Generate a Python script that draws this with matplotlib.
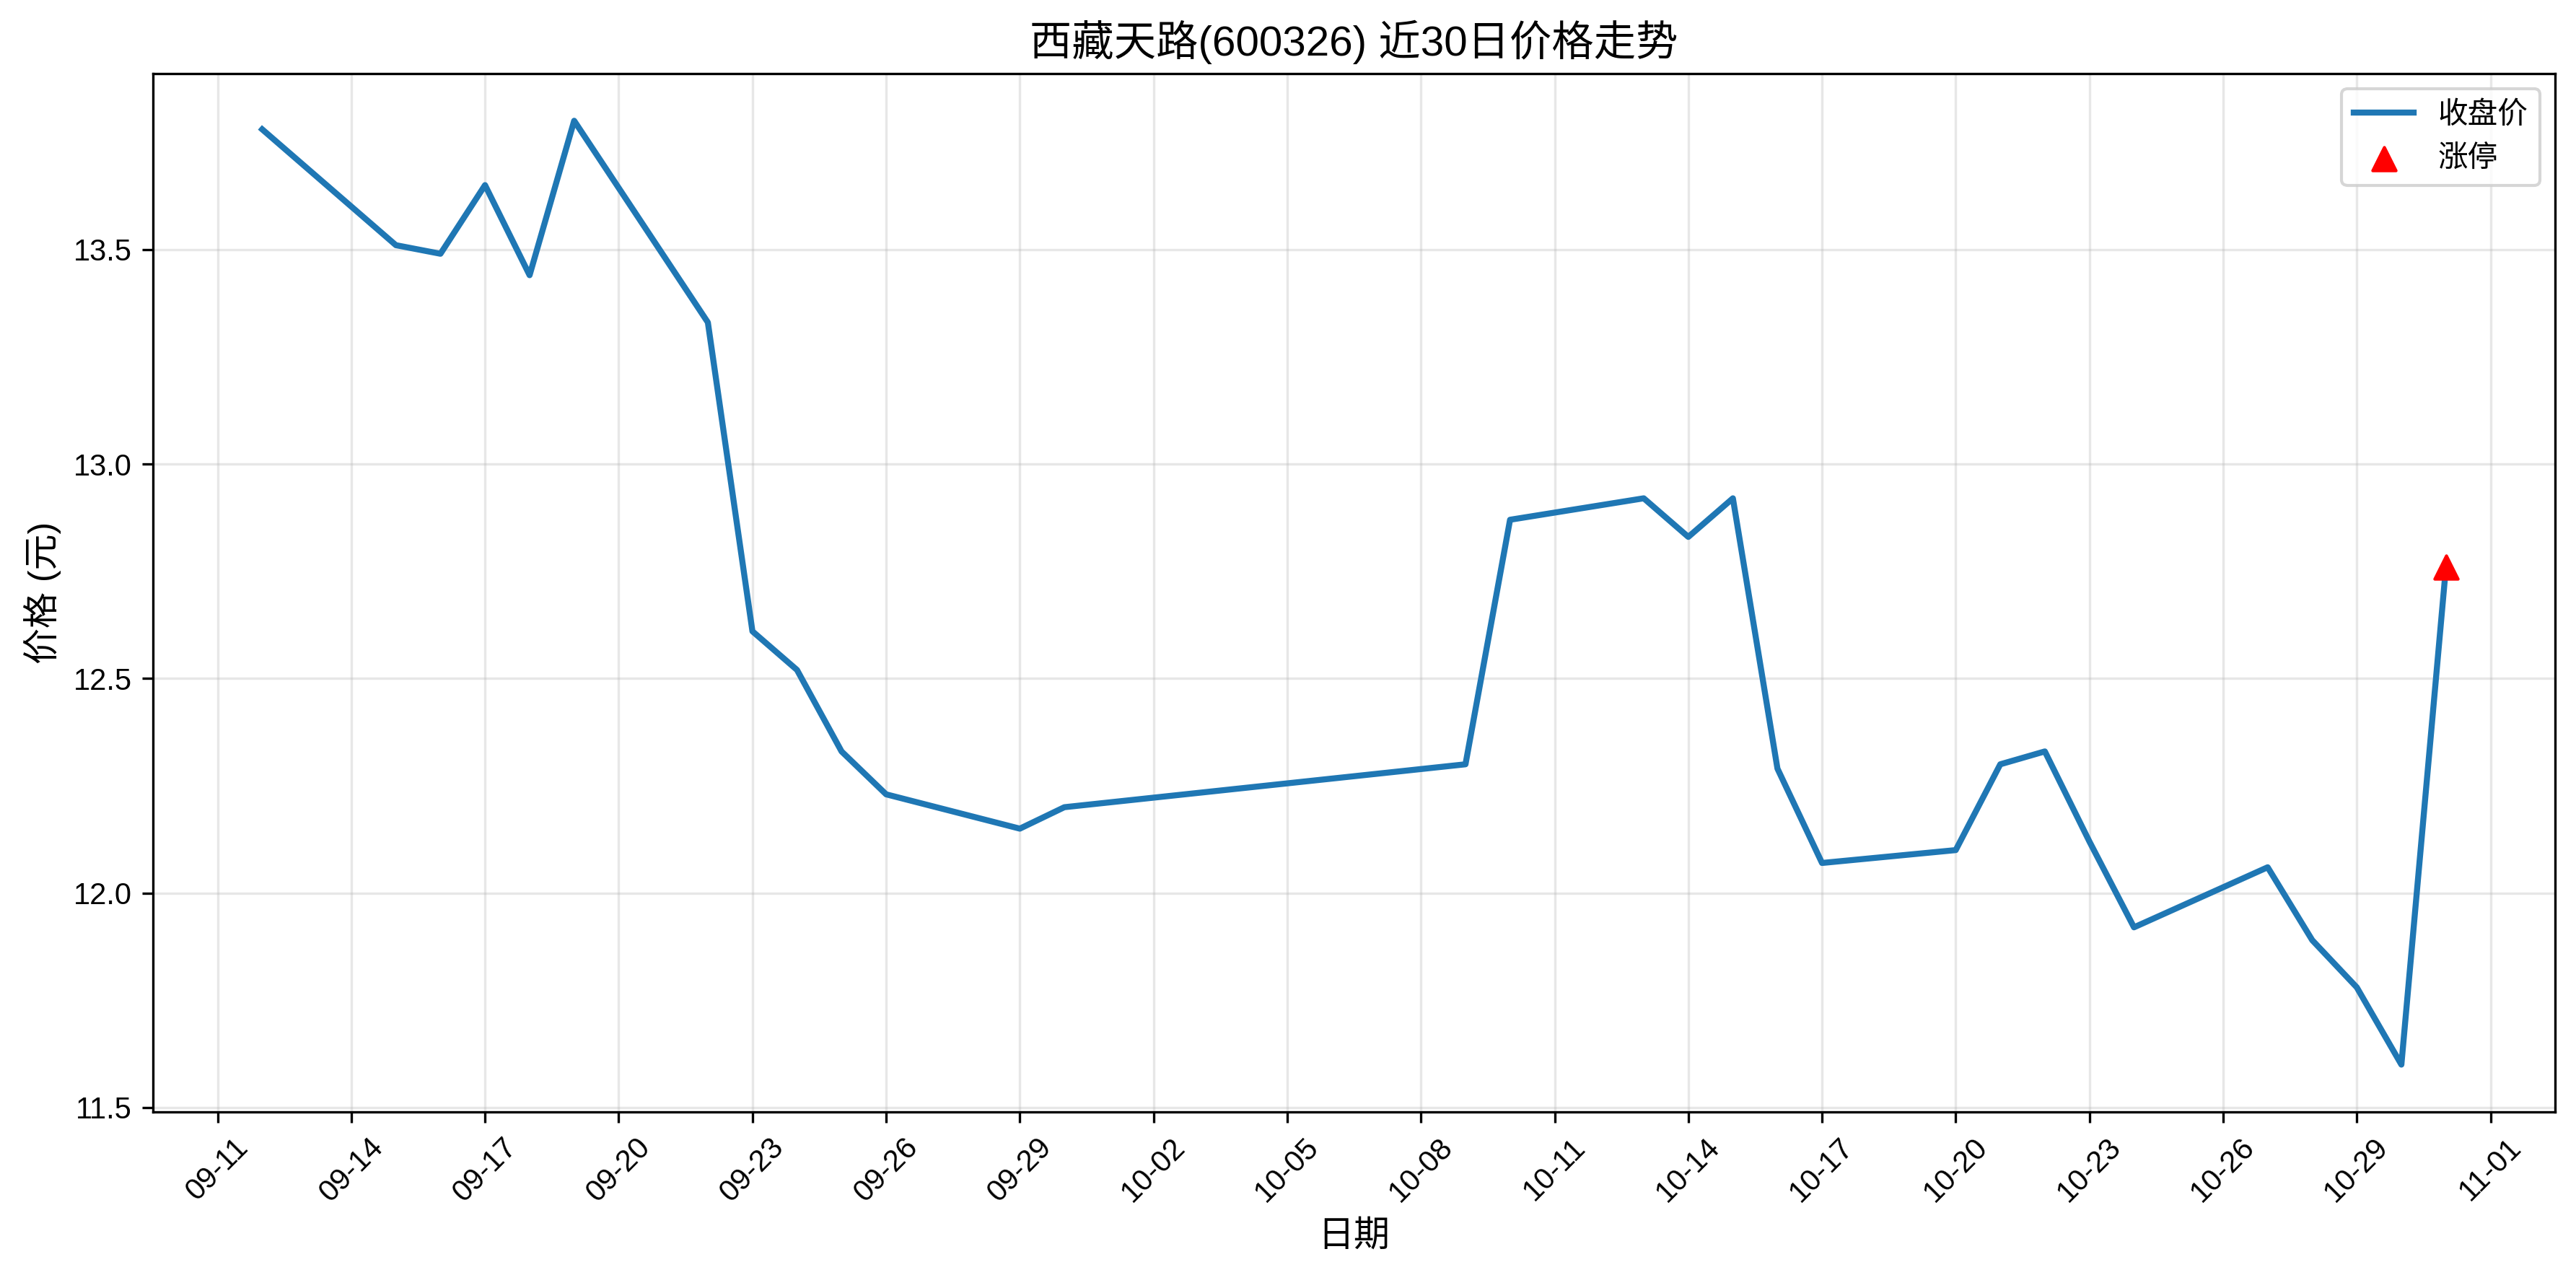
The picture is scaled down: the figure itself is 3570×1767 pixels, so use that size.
import numpy as np
import pandas as pd
import matplotlib
matplotlib.use("Agg")
import matplotlib.pyplot as plt
import matplotlib.dates as mdates

plt.rcParams['font.family'] = ['Liberation Sans', 'Noto Sans CJK SC', 'DejaVu Sans']
plt.rcParams['axes.unicode_minus'] = False

# trading days (2025) and close prices
dates = ["2025-09-12", "2025-09-15", "2025-09-16", "2025-09-17", "2025-09-18", "2025-09-19",
         "2025-09-22", "2025-09-23", "2025-09-24", "2025-09-25", "2025-09-26",
         "2025-09-29", "2025-09-30", "2025-10-09", "2025-10-10",
         "2025-10-13", "2025-10-14", "2025-10-15", "2025-10-16", "2025-10-17",
         "2025-10-20", "2025-10-21", "2025-10-22", "2025-10-23", "2025-10-24",
         "2025-10-27", "2025-10-28", "2025-10-29", "2025-10-30", "2025-10-31"]
close = [13.78, 13.51, 13.49, 13.65, 13.44, 13.80,
         13.33, 12.61, 12.52, 12.33, 12.23,
         12.15, 12.20, 12.30, 12.87,
         12.92, 12.83, 12.92, 12.29, 12.07,
         12.10, 12.30, 12.33, 12.12, 11.92,
         12.06, 11.89, 11.78, 11.60, 12.76]
limit_up_dates = ["2025-10-31"]
limit_up_prices = [12.76]

dates = pd.to_datetime(dates)
limit_up_dates = pd.to_datetime(limit_up_dates)

fig, ax = plt.subplots(figsize=(11.9, 5.89), dpi=300)
fig.subplots_adjust(left=0.0594, right=0.9919, top=0.9423, bottom=0.128)

ax.plot(dates, close, color='#1f77b4', linewidth=2, label='收盘价')
ax.scatter(limit_up_dates, limit_up_prices, color='red', marker='^', s=60, zorder=5, label='涨停')

ax.set_title('西藏天路(600326) 近30日价格走势', fontsize=14)
ax.set_xlabel('日期', fontsize=12)
ax.set_ylabel('价格 (元)', fontsize=12)

ticks = pd.date_range('2025-09-11', '2025-11-01', freq='3D')
ax.set_xticks(ticks)
ax.xaxis.set_major_formatter(mdates.DateFormatter('%m-%d'))
plt.setp(ax.get_xticklabels(), rotation=45)
ax.tick_params(labelsize=10)

ax.grid(True, alpha=0.3)
ax.legend(loc='upper right', fontsize=10)

fig.savefig('out.png', dpi=300)
